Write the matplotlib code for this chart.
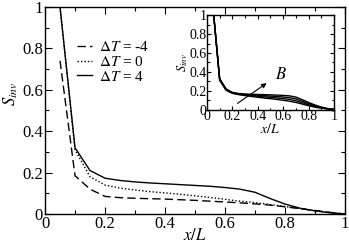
import numpy as np
import matplotlib
matplotlib.use("Agg")
import matplotlib.pyplot as plt
from matplotlib.ticker import MultipleLocator

plt.rcParams['font.family'] = 'serif'
plt.rcParams['font.serif'] = ['Liberation Serif', 'DejaVu Serif']
plt.rcParams['mathtext.fontset'] = 'stix'

# posiciones x/L
x = [0.05, 0.10, 0.15, 0.20, 0.25, 0.30, 0.35, 0.40, 0.45, 0.50,
     0.55, 0.60, 0.65, 0.70, 0.75, 0.80, 0.85, 0.90, 0.95, 1.00]

# curvas principales
s_m4 = [0.74, 0.185, 0.12, 0.085, 0.079, 0.076, 0.074, 0.072, 0.069, 0.066,
        0.062, 0.058, 0.054, 0.049, 0.043, 0.035, 0.026, 0.017, 0.008, 0.0]
s_0 = [1.0, 0.31, 0.18, 0.14, 0.125, 0.116, 0.108, 0.102, 0.095, 0.088,
       0.080, 0.071, 0.062, 0.055, 0.046, 0.036, 0.026, 0.016, 0.007, 0.0]
s_p4 = [1.0, 0.32, 0.21, 0.173, 0.162, 0.155, 0.150, 0.146, 0.142, 0.138,
        0.134, 0.128, 0.120, 0.105, 0.075, 0.048, 0.028, 0.015, 0.006, 0.0]

# curvas del recuadro (distintos B)
b1 = [1.05, 0.31, 0.205, 0.172, 0.158, 0.148, 0.139, 0.130, 0.122, 0.115,
      0.107, 0.098, 0.088, 0.075, 0.058, 0.040, 0.025, 0.014, 0.006, 0.0]
b2 = [1.05, 0.317, 0.210, 0.175, 0.162, 0.154, 0.147, 0.141, 0.135, 0.129,
      0.123, 0.116, 0.107, 0.093, 0.072, 0.050, 0.032, 0.018, 0.007, 0.0]
b3 = [1.05, 0.323, 0.215, 0.178, 0.166, 0.160, 0.155, 0.151, 0.147, 0.143,
      0.138, 0.133, 0.126, 0.113, 0.088, 0.062, 0.040, 0.022, 0.008, 0.0]
b4 = [1.05, 0.33, 0.220, 0.182, 0.170, 0.165, 0.162, 0.160, 0.158, 0.156,
      0.153, 0.150, 0.145, 0.132, 0.105, 0.075, 0.048, 0.027, 0.010, 0.0]

ticks = [0, 0.2, 0.4, 0.6, 0.8, 1]
tick_labels = ['0', '0.2', '0.4', '0.6', '0.8', '1']


def style_axes(ax, size, major_len, minor_len):
    ax.set_xlim(0, 1)
    ax.set_ylim(0, 1)
    ax.set_xticks(ticks)
    ax.set_yticks(ticks)
    ax.set_xticklabels(tick_labels)
    ax.set_yticklabels(tick_labels)
    ax.xaxis.set_minor_locator(MultipleLocator(0.1))
    ax.yaxis.set_minor_locator(MultipleLocator(0.1))
    ax.tick_params(which='both', direction='in', top=True, right=True,
                   labelsize=size, width=0.8, pad=1.5)
    ax.tick_params(which='major', length=major_len)
    ax.tick_params(which='minor', length=minor_len)
    for sp in ax.spines.values():
        sp.set_linewidth(1.0)


fig = plt.figure(figsize=(3.49, 2.45), dpi=100)
ax = fig.add_axes([0.129, 0.1265, 0.8595, 0.845])

ax.plot(x, s_m4, color='black', linestyle=(0, (6, 3)), linewidth=1.0, label=r'$\Delta T$ = -4')
ax.plot(x, s_0, color='black', linestyle=(0, (1, 1.5)), linewidth=1.0, label=r'$\Delta T$ = 0')
ax.plot(x, s_p4, color='black', linestyle='-', linewidth=1.0, label=r'$\Delta T$ = 4')

style_axes(ax, 12, 5, 3)
ax.set_xlabel(r'$x/L$', fontsize=12, labelpad=-3)
ax.set_ylabel(r'$S_{inv}$', fontsize=12, labelpad=2)
ax.yaxis.set_label_coords(-0.085, 0.58)

ax.legend(loc='upper left', bbox_to_anchor=(0.105, 0.84), frameon=False,
          fontsize=11, handlelength=1.0, handletextpad=0.5,
          labelspacing=0.05, borderpad=0, borderaxespad=0)

# recuadro
ins = fig.add_axes([0.593, 0.553, 0.364, 0.384])
for b in [b1, b2, b3, b4]:
    ins.plot(x, b, color='black', linewidth=1.0)
style_axes(ins, 10, 3, 1.8)
ins.tick_params(pad=0.5)
ins.set_xlabel(r'$x/L$', fontsize=10, labelpad=-1)
ins.set_ylabel(r'$S_{inv}$', fontsize=9, labelpad=-1)
ins.annotate('', xy=(0.47, 0.28), xytext=(0.24, 0.065),
             arrowprops=dict(arrowstyle='-|>', color='black', lw=0.8,
                             mutation_scale=7, shrinkA=0, shrinkB=0))
ins.text(0.585, 0.37, r'$B$', fontsize=12, ha='center', va='center')

fig.savefig('out.png', dpi=100)
